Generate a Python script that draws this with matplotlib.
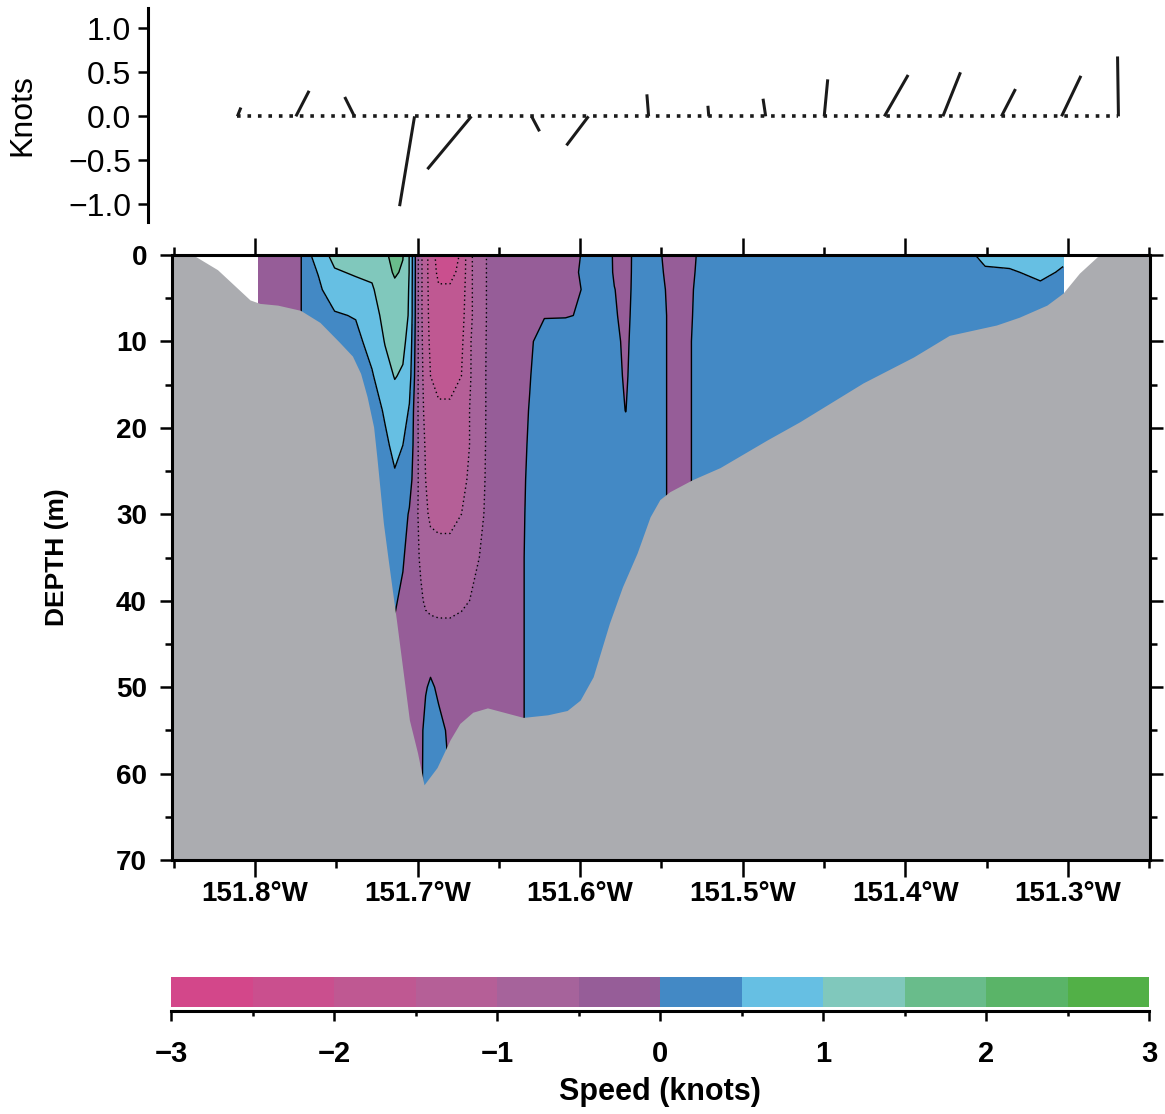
import numpy as np
import matplotlib
matplotlib.use('Agg')
import matplotlib.pyplot as plt
from matplotlib.ticker import MultipleLocator

plt.rcParams['font.family'] = ['Liberation Sans', 'DejaVu Sans']
plt.rcParams['axes.linewidth'] = 2.2

# %% stick plot (top): station longitude (deg W), east / north components (knots)
stick_lon = [151.811, 151.775, 151.739, 151.702, 151.667, 151.630, 151.595, 151.558,
             151.521, 151.486, 151.450, 151.413, 151.377, 151.341, 151.304, 151.269]
stick_u = [0.04, 0.15, -0.11, -0.17, -0.50, 0.09, -0.25, -0.02,
           -0.01, -0.03, 0.04, 0.27, 0.20, 0.16, 0.22, -0.01]
stick_v = [0.10, 0.29, 0.22, -1.02, -0.60, -0.17, -0.33, 0.25,
           0.12, 0.20, 0.42, 0.47, 0.50, 0.31, 0.46, 0.68]

# %% speed section: longitudes (deg W), depths (m), one speed profile per longitude
sec_lon = [151.798, 151.774, 151.769, 151.761, 151.751, 151.738, 151.728, 151.720,
           151.714, 151.709, 151.705, 151.698, 151.695, 151.692, 151.687, 151.680,
           151.673, 151.668, 151.662, 151.655, 151.643, 151.631, 151.622, 151.609,
           151.597, 151.585, 151.579, 151.572, 151.566, 151.557, 151.548, 151.539,
           151.526, 151.508, 151.453, 151.391, 151.363, 151.351, 151.336, 151.317,
           151.303]
sec_depth = [0, 2, 4, 7, 10, 14, 18, 22, 26, 30, 35, 40, 45, 50, 55, 62]
sec_speed = [
    [-0.3] * 16,
    [-0.3] * 16,
    [0.3] * 16,
    [0.75, 0.52, 0.42, 0.3, 0.3, 0.3, 0.3, 0.3, 0.3, 0.3, 0.3, 0.3, 0.3, 0.3, 0.3, 0.3],
    [1.15, 0.95, 0.75, 0.45, 0.3, 0.3, 0.3, 0.3, 0.3, 0.3, 0.3, 0.3, 0.3, 0.3, 0.3, 0.3],
    [1.25, 1.05, 0.85, 0.53, 0.35, 0.2, 0.2, 0.2, 0.2, 0.2, 0.2, 0.2, 0.2, 0.2, 0.2, 0.2],
    [1.3, 1.08, 0.95, 0.85, 0.7, 0.45, 0.3, 0.2, 0.15, 0.15, 0.15, 0.15, 0.15, 0.15, 0.15, 0.15],
    [1.45, 1.35, 1.25, 1.1, 1.02, 0.85, 0.55, 0.42, 0.3, 0.2, 0.15, 0.1, 0.1, 0.1, 0.1, 0.1],
    [1.6, 1.55, 1.4, 1.3, 1.15, 1.02, 0.82, 0.6, 0.45, 0.3, 0.15, 0.05, -0.1, -0.2, -0.2, -0.2],
    [1.52, 1.45, 1.3, 1.2, 1.1, 0.95, 0.75, 0.5, 0.35, 0.2, 0.05, -0.1, -0.2, -0.3, -0.3, -0.3],
    [0.98, 0.98, 0.96, 0.95, 0.85, 0.7, 0.45, 0.35, 0.2, -0.05, -0.2, -0.3, -0.3, -0.25, -0.2, -0.2],
    [-0.9, -0.9, -0.9, -0.9, -0.88, -0.85, -0.8, -0.75, -0.7, -0.65, -0.55, -0.45, -0.3, -0.25, -0.15, -0.1],
    [-1.3, -1.3, -1.3, -1.3, -1.25, -1.2, -1.15, -1.05, -1.0, -0.95, -0.8, -0.55, -0.32, -0.05, 0.2, 0.2],
    [-1.75, -1.75, -1.7, -1.65, -1.6, -1.5, -1.4, -1.3, -1.15, -1.05, -0.88, -0.58, -0.34, 0.1, 0.25, 0.25],
    [-2.2, -2.1, -1.95, -1.85, -1.75, -1.6, -1.45, -1.35, -1.2, -1.08, -0.9, -0.6, -0.35, -0.1, 0.15, 0.2],
    [-2.2, -2.1, -1.95, -1.85, -1.75, -1.6, -1.45, -1.35, -1.2, -1.08, -0.9, -0.6, -0.35, -0.3, -0.1, 0.0],
    [-1.95, -1.9, -1.8, -1.7, -1.6, -1.5, -1.35, -1.25, -1.1, -1.0, -0.85, -0.55, -0.35, -0.3, -0.25, -0.25],
    [-1.1, -1.1, -1.1, -1.1, -1.05, -1.05, -1.0, -1.0, -0.95, -0.9, -0.75, -0.5, -0.3, -0.3, -0.25, -0.25],
    [-0.75, -0.75, -0.75, -0.75, -0.72, -0.7, -0.7, -0.68, -0.65, -0.6, -0.5, -0.4, -0.3, -0.3, -0.25, -0.25],
    [-0.35, -0.35, -0.35, -0.35, -0.35, -0.35, -0.35, -0.35, -0.35, -0.35, -0.32, -0.3, -0.3, -0.3, -0.25, -0.25],
    [-0.3] * 16,
    [-0.2, -0.2, -0.18, -0.12, -0.05, -0.02, 0.02, 0.05, 0.08, 0.1, 0.12, 0.12, 0.12, 0.12, 0.12, 0.12],
    [-0.1, -0.1, -0.08, -0.02, 0.15, 0.25, 0.25, 0.25, 0.25, 0.25, 0.25, 0.25, 0.25, 0.25, 0.25, 0.25],
    [-0.1, -0.1, -0.08, -0.02, 0.2, 0.25, 0.25, 0.25, 0.25, 0.25, 0.25, 0.25, 0.25, 0.25, 0.25, 0.25],
    [0.03, 0.05, 0.02, 0.03, 0.25, 0.25, 0.25, 0.25, 0.25, 0.25, 0.25, 0.25, 0.25, 0.25, 0.25, 0.25],
    [0.2, 0.2, 0.22, 0.22, 0.25, 0.25, 0.25, 0.25, 0.25, 0.25, 0.25, 0.25, 0.25, 0.25, 0.25, 0.25],
    [-0.05, -0.04, 0.01, 0.04, 0.1, 0.15, 0.2, 0.25, 0.25, 0.25, 0.25, 0.25, 0.25, 0.25, 0.25, 0.25],
    [-0.15, -0.14, -0.12, -0.1, -0.08, -0.06, -0.01, 0.25, 0.25, 0.25, 0.25, 0.25, 0.25, 0.25, 0.25, 0.25],
    [0.1, 0.1, 0.1, 0.12, 0.15, 0.2, 0.25, 0.25, 0.25, 0.25, 0.25, 0.25, 0.25, 0.25, 0.25, 0.25],
    [0.2] * 16,
    [-0.05, -0.02, 0.01, 0.03, 0.03, 0.03, 0.03, 0.03, 0.03, 0.03, 0.1, 0.2, 0.2, 0.2, 0.2, 0.2],
    [-0.2, -0.2, -0.2, -0.2, -0.2, -0.2, -0.2, -0.2, -0.2, -0.2, 0.1, 0.1, 0.1, 0.1, 0.1, 0.1],
    [0.05, 0.07, 0.1, 0.12, 0.15, 0.15, 0.15, 0.15, 0.15, 0.15, 0.15, 0.15, 0.15, 0.15, 0.15, 0.15],
    [0.25] * 16,
    [0.25] * 16,
    [0.25] * 16,
    [0.35, 0.3, 0.25, 0.25, 0.25, 0.25, 0.25, 0.25, 0.25, 0.25, 0.25, 0.25, 0.25, 0.25, 0.25, 0.25],
    [0.65, 0.42, 0.3, 0.25, 0.25, 0.25, 0.25, 0.25, 0.25, 0.25, 0.25, 0.25, 0.25, 0.25, 0.25, 0.25],
    [0.68, 0.45, 0.3, 0.25, 0.25, 0.25, 0.25, 0.25, 0.25, 0.25, 0.25, 0.25, 0.25, 0.25, 0.25, 0.25],
    [0.75, 0.6, 0.4, 0.3, 0.25, 0.25, 0.25, 0.25, 0.25, 0.25, 0.25, 0.25, 0.25, 0.25, 0.25, 0.25],
    [0.6, 0.45, 0.3, 0.25, 0.25, 0.25, 0.25, 0.25, 0.25, 0.25, 0.25, 0.25, 0.25, 0.25, 0.25, 0.25],
]

# %% bottom profile (deg W, m)
bathy_lon = [151.851, 151.838, 151.823, 151.803, 151.797, 151.786, 151.772, 151.760,
             151.748, 151.740, 151.735, 151.731, 151.727, 151.725, 151.723, 151.721,
             151.718, 151.713, 151.709, 151.705, 151.700, 151.696, 151.688, 151.680,
             151.674, 151.666, 151.657, 151.647, 151.635, 151.620, 151.608, 151.600,
             151.592, 151.582, 151.574, 151.565, 151.557, 151.551, 151.545, 151.531,
             151.514, 151.485, 151.465, 151.426, 151.395, 151.373, 151.344, 151.330,
             151.313, 151.303, 151.293, 151.282, 151.276, 151.250]
bathy_depth = [0, 0, 1.7, 5.2, 5.6, 5.8, 6.4, 7.8,
               10.1, 11.7, 13.7, 16.4, 19.9, 23.4, 27.2, 31.0,
               35.3, 42.2, 48.0, 53.8, 57.6, 61.3, 59.3, 56.1,
               54.2, 52.9, 52.4, 52.9, 53.5, 53.2, 52.7, 51.5,
               48.8, 42.6, 38.4, 34.5, 30.3, 28.3, 27.4, 26.0,
               24.6, 21.4, 19.3, 14.8, 11.8, 9.3, 8.1, 7.2,
               5.8, 4.4, 2.1, 0.2, 0, 0]

levels = [-3, -2.5, -2, -1.5, -1, -0.5, 0, 0.5, 1, 1.5, 2, 2.5, 3]
level_colors = ['#D3478A', '#CA4F8E', '#BF5892', '#B55F97', '#A6639B', '#965D98',
                '#4389C5', '#66BFE3', '#80C8BC', '#69BC8B', '#5AB468', '#52B047']

def minus(s):
    return s.replace('-', '\u2212')

fig = plt.figure(figsize=(11.65, 11.14), dpi=100)

# %% top panel
ax1 = fig.add_axes([0.1270, 0.8007, 0.8601, 0.1921])
x_st = -np.array(stick_lon)
ax1.plot([x_st[0], x_st[-1]], [0, 0], color='#1a1a1a', lw=2.6, ls=(0, (1.0, 1.9)))
ax1.quiver(x_st, np.zeros(len(x_st)), stick_u, stick_v, angles='uv', scale_units='y',
           scale=1, pivot='tail', width=0.003, headwidth=0, headlength=0,
           headaxislength=0, color='#1a1a1a')
ax1.set_xlim(-151.866, -151.2496)
ax1.set_ylim(-1.2, 1.23)
for s in ['top', 'right', 'bottom']:
    ax1.spines[s].set_visible(False)
ax1.set_xticks([])
yt = [-1.0, -0.5, 0.0, 0.5, 1.0]
ax1.set_yticks(yt, [minus(f'{v:.1f}') for v in yt], fontsize=23)
ax1.tick_params(axis='y', direction='out', length=7, width=1.8, pad=5)
fig.text(22 / 1165, 1 - 115 / 1114, 'Knots', rotation=90, ha='center', va='center',
         fontsize=23)

# %% section panel
ax = fig.add_axes([0.1476, 0.2280, 0.8395, 0.5431])
X = -np.array(sec_lon)
Z = np.array(sec_speed).T
cf = ax.contourf(X, sec_depth, Z, levels=levels, colors=level_colors, zorder=1)
line_levels = levels[1:-1]
ax.contour(X, sec_depth, Z, levels=line_levels, colors='black', linewidths=1.0,
           linestyles=[(0, (1, 2.2)) if l < 0 else 'solid' for l in line_levels],
           zorder=2)
ax.fill_between(-np.array(bathy_lon), bathy_depth, 75, color='#ABACB0', lw=0, zorder=3)
ax.set_xlim(-151.851, -151.2496)
ax.set_ylim(70, 0)

xt = [-151.8, -151.7, -151.6, -151.5, -151.4, -151.3]
ax.set_xticks(xt, [f'{-v:.1f}\u00b0W' for v in xt], fontsize=20, fontweight='bold')
ax.xaxis.set_minor_locator(MultipleLocator(0.05))
ax.set_yticks(range(0, 71, 10), [str(v) for v in range(0, 71, 10)],
              fontsize=20, fontweight='bold')
ax.yaxis.set_minor_locator(MultipleLocator(5))
ax.tick_params(which='both', direction='out', top=True, right=True, width=1.8, zorder=5)
ax.tick_params(axis='x', which='major', length=12, pad=3)
ax.tick_params(axis='x', which='minor', length=6)
ax.tick_params(axis='y', which='major', length=9, pad=9)
ax.tick_params(axis='y', which='minor', length=5)
for sp in ax.spines.values():
    sp.set_zorder(6)
fig.text(57 / 1165, 1 - 557 / 1114, 'DEPTH (m)', rotation=90, ha='center', va='center',
         fontsize=19, fontweight='bold')

# %% colour bar
cax = fig.add_axes([0.1468, 0.0960, 0.8395, 0.0269])
cb = fig.colorbar(cf, cax=cax, orientation='horizontal', ticks=range(-3, 4))
cb.outline.set_visible(False)
cax.spines['bottom'].set_visible(True)
cax.spines['bottom'].set_position(('outward', 3))
cax.spines['bottom'].set_linewidth(2.2)
cax.xaxis.set_minor_locator(MultipleLocator(0.5))
cax.set_xticks(range(-3, 4), [minus(str(v)) for v in range(-3, 4)],
               fontsize=21, fontweight='bold')
cax.tick_params(axis='x', which='major', direction='out', length=7, width=1.8, pad=14)
cax.tick_params(axis='x', which='minor', direction='out', length=3.5, width=1.8)
fig.text(660 / 1165, 1 - 1092 / 1114, 'Speed (knots)', ha='center', va='center',
         fontsize=22, fontweight='bold')

fig.savefig('out.png', dpi=100)
